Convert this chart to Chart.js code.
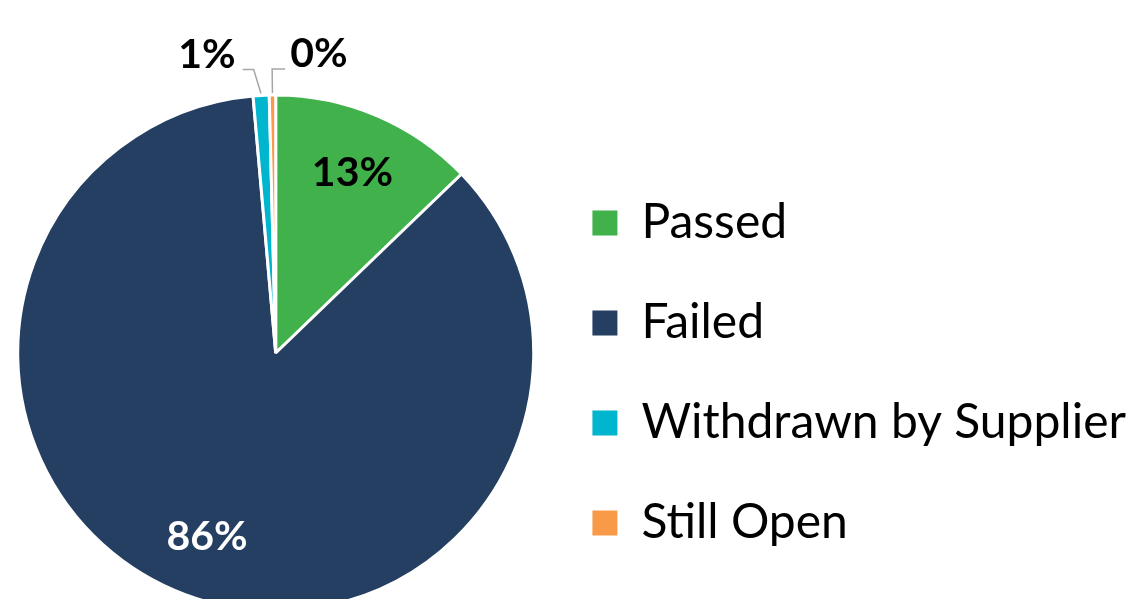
<!DOCTYPE html>
<html>
<head>
<meta charset="utf-8">
<script src="https://cdn.jsdelivr.net/npm/chart.js@4"></script>
<style>
    html, body { margin: 0; padding: 0; background: #fff; overflow: hidden; width: 1141px; height: 599px; }
    /* canvas is a bit larger than the window so the pie can sit left and run off the bottom */
    #pie_chart { position: absolute; left: -35px; top: 0; }
</style>
</head>
<body>
<canvas id="pie_chart" width="1176" height="614"></canvas>
<script>
const categories = ['Passed', 'Failed', 'Withdrawn by Supplier', 'Still Open']
const shares = [12.8, 85.8, 1.0, 0.4]
const sliceColors = ['#41B14C', '#243F61', '#00B5CE', '#F99A49']
const labelColors = ['#000000', '#ffffff', '#000000', '#000000']

// Percent labels: inside for big slices, outside with a leader line for tiny ones
const sliceLabels = {
    id: 'sliceLabels',
    afterDatasetsDraw(chart) {
        const ctx = chart.ctx
        const meta = chart.getDatasetMeta(0)
        const values = chart.data.datasets[0].data
        const total = values.reduce((a, b) => a + b, 0)
        ctx.save()
        ctx.font = 'bold 41px Lato'
        ctx.textBaseline = 'middle'
        meta.data.forEach((arc, i) => {
            const { x, y, startAngle, endAngle, outerRadius } = arc.getProps(['x', 'y', 'startAngle', 'endAngle', 'outerRadius'], true)
            const mid = (startAngle + endAngle) / 2
            const text = Math.round(values[i] / total * 100) + '%'
            const share = values[i] / total
            if (share > 0.05) {
                const r = outerRadius * 0.76
                ctx.fillStyle = labelColors[i]
                ctx.textAlign = 'center'
                ctx.fillText(text, x + Math.cos(mid) * r, y + Math.sin(mid) * r)
            } else {
                const left = Math.cos(mid) < -0.02
                const x0 = x + Math.cos(mid) * (outerRadius + 2)
                const y0 = y + Math.sin(mid) * (outerRadius + 2)
                const x1 = x + Math.cos(mid) * (outerRadius + 26) - (left ? 6 : 0)
                const y1 = y + Math.sin(mid) * (outerRadius + 26)
                const x2 = left ? x1 - 11 : x1 + 13
                ctx.strokeStyle = '#a6a6a6'
                ctx.lineWidth = 1.5
                ctx.beginPath()
                ctx.moveTo(x0, y0)
                ctx.lineTo(x1, y1)
                ctx.lineTo(x2, y1)
                ctx.stroke()
                ctx.fillStyle = '#000000'
                ctx.textAlign = left ? 'right' : 'left'
                ctx.fillText(text, left ? x2 - 7 : x2 + 5, y1 - 15)
            }
        })
        ctx.restore()
    }
}

const baseLabels = Chart.overrides.doughnut.plugins.legend.labels.generateLabels

const config = {
    type: 'pie',
    data: {
        labels: categories,
        datasets: [
            {
                data: shares,
                backgroundColor: sliceColors,
                borderColor: '#ffffff',
                borderWidth: 3,
                radius: 258,
            }
        ]
    },
    options: {
        responsive: false,
        animation: false,
        devicePixelRatio: 1,
        layout: {
            padding: { left: 4, top: 92, bottom: 0, right: 5 }
        },
        plugins: {
            legend: {
                position: 'right',
                align: 'start',
                // empty title used as a spacer above the first entry
                title: {
                    display: true,
                    text: ' ',
                    font: { size: 12, lineHeight: '77px' },
                    padding: 10
                },
                labels: {
                    boxWidth: 25,
                    boxHeight: 25,
                    padding: 10,
                    color: '#000000',
                    font: { family: 'Lato', size: 48, lineHeight: '90px' },
                    // one-line arrays so the row height follows the font line height
                    generateLabels: (chart) => baseLabels(chart).map(item => ({ ...item, text: [item.text], lineWidth: 0 }))
                }
            },
            tooltip: { enabled: false }
        }
    },
    plugins: [sliceLabels]
}

const ctx = document.getElementById('pie_chart').getContext('2d')
const pieChart = new Chart(ctx, config)
</script>
</body>
</html>
